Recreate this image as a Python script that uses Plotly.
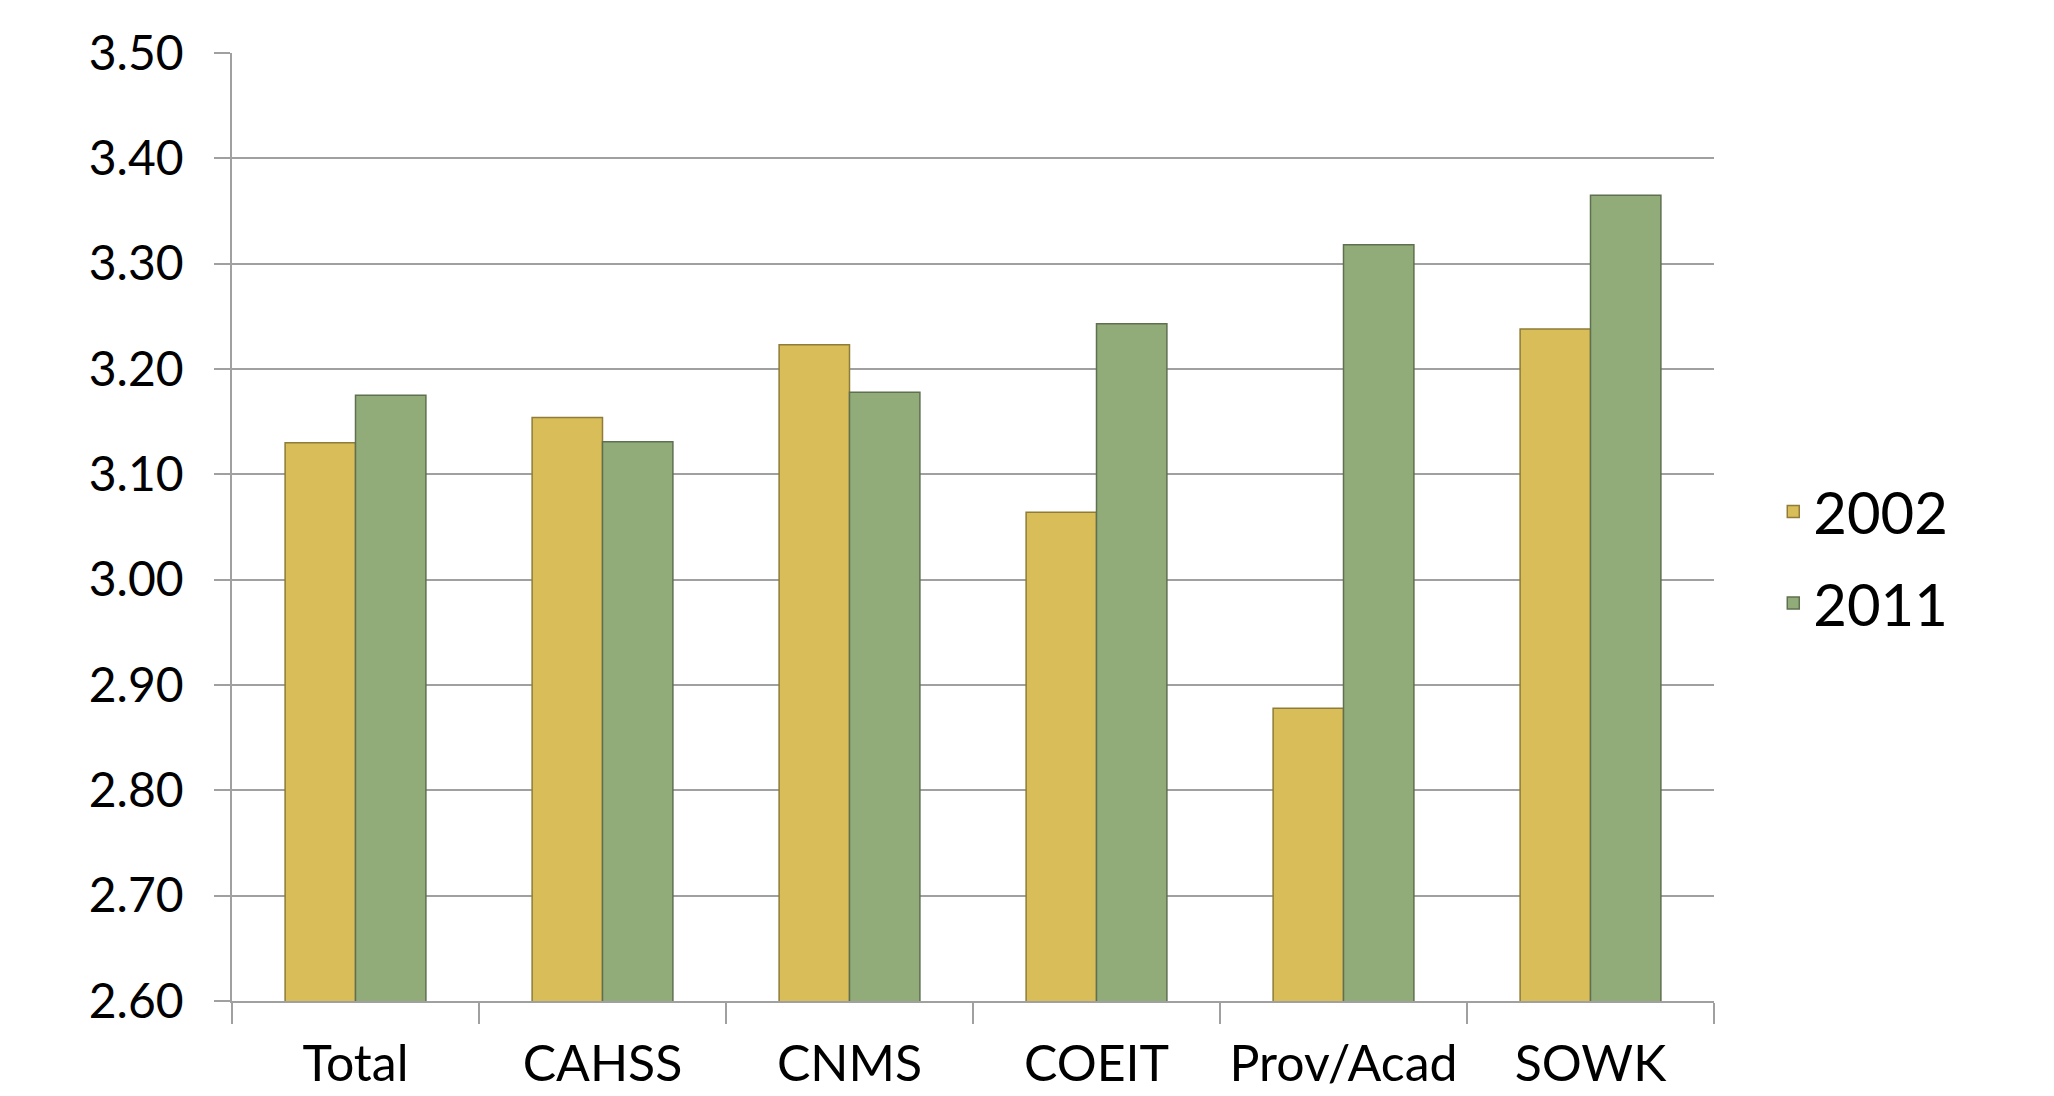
import plotly.graph_objects as go

categories = ["Total", "CAHSS", "CNMS", "COEIT", "Prov/Acad", "SOWK"]
values_2002 = [3.13, 3.154, 3.223, 3.064, 2.878, 3.238]
values_2011 = [3.175, 3.131, 3.178, 3.243, 3.318, 3.365]
y_ticks = [2.60, 2.70, 2.80, 2.90, 3.00, 3.10, 3.20, 3.30, 3.40, 3.50]

FONT = "Lato"

fig = go.Figure()
fig.add_trace(go.Bar(
    name="2002", x=categories, y=values_2002, legendgroup="a",
    marker=dict(color="#D9BD58", line=dict(color="#8E7C38", width=1.5)),
))
fig.add_trace(go.Bar(
    name="2011", x=categories, y=values_2011, legendgroup="b",
    marker=dict(color="#91AC78", line=dict(color="#5F7050", width=1.5)),
))

fig.update_layout(
    width=2054, height=1096,
    margin=dict(l=224, r=348, t=45, b=103),
    paper_bgcolor="white", plot_bgcolor="white",
    barmode="group", bargap=0.43, bargroupgap=0.0,
    font=dict(family=FONT, color="black", size=48),
    legend=dict(
        x=1.04, y=0.468, xanchor="left", yanchor="middle",
        font=dict(size=58, family=FONT),
        traceorder="grouped", tracegroupgap=13, itemwidth=30,
    ),
    showlegend=True,
)
fig.update_xaxes(
    type="category", automargin=False,
    showline=True, linecolor="#A0A0A0", linewidth=2,
    ticks="outside", tickson="boundaries", ticklen=21, tickcolor="#A0A0A0", tickwidth=1.5,
    showgrid=False,
    tickfont=dict(size=50, family=FONT),
    ticklabelstandoff=18,
)
fig.update_yaxes(
    range=[2.60, 3.50], tickvals=y_ticks, tickformat=".2f", automargin=False,
    showline=True, linecolor="#A0A0A0", linewidth=1.5,
    ticks="outside", ticklen=16, tickcolor="#A0A0A0", tickwidth=1.5,
    showgrid=True, gridcolor="#A0A0A0", gridwidth=2,
    tickfont=dict(size=48, family=FONT),
    ticklabelstandoff=21,
    zeroline=False,
)

fig.write_html("out.html")
